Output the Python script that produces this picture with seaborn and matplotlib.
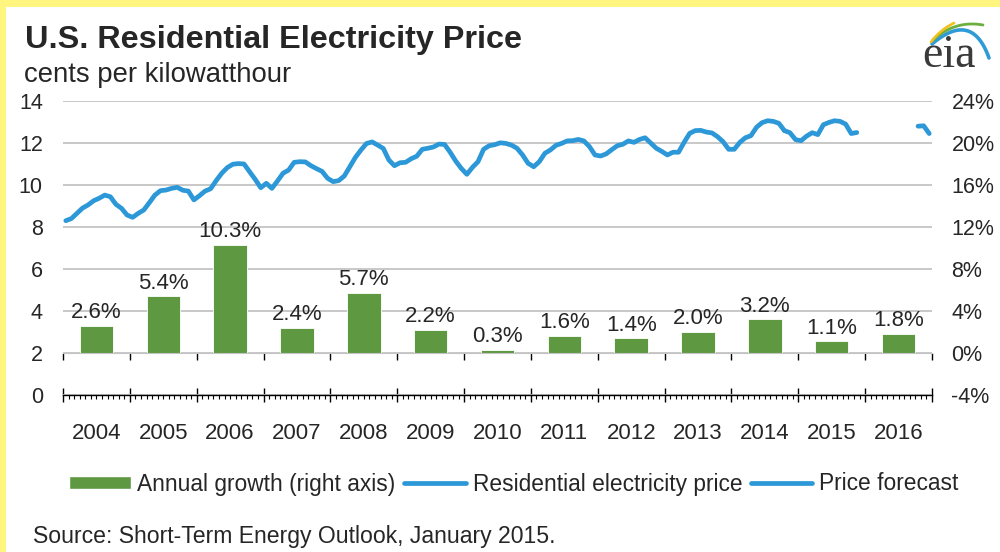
import numpy as np
import pandas as pd
import matplotlib
matplotlib.use("Agg")
import matplotlib.pyplot as plt
import seaborn as sns
from matplotlib.patches import Patch, Rectangle
from matplotlib.lines import Line2D

# annual growth of the residential price, % (right axis)
years = list(range(2004, 2017))
growth = [2.6, 5.4, 10.3, 2.4, 5.7, 2.2, 0.3, 1.6, 1.4, 2.0, 3.2, 1.1, 1.8]

# monthly residential price, cents/kWh, Jan 2004 - Oct 2014
price_hist = [
    8.30, 8.40, 8.65, 8.90, 9.05, 9.25, 9.37, 9.52, 9.44, 9.08, 8.89, 8.57,
    8.46, 8.65, 8.81, 9.16, 9.52, 9.73, 9.76, 9.84, 9.89, 9.75, 9.71, 9.29,
    9.49, 9.71, 9.82, 10.21, 10.56, 10.83, 10.99, 11.02, 11.00, 10.63, 10.27, 9.87,
    10.08, 9.84, 10.19, 10.56, 10.71, 11.08, 11.11, 11.10, 10.92, 10.78, 10.65, 10.32,
    10.16, 10.21, 10.43, 10.87, 11.32, 11.67, 11.98, 12.05, 11.90, 11.74, 11.19, 10.92,
    11.06, 11.08, 11.25, 11.37, 11.70, 11.75, 11.81, 11.95, 11.93, 11.56, 11.14, 10.79,
    10.51, 10.84, 11.11, 11.70, 11.87, 11.92, 12.01, 11.98, 11.90, 11.75, 11.43, 11.03,
    10.87, 11.11, 11.51, 11.67, 11.89, 11.98, 12.10, 12.11, 12.17, 12.10, 11.83, 11.43,
    11.38, 11.48, 11.68, 11.87, 11.94, 12.10, 12.03, 12.17, 12.25, 12.00, 11.75, 11.60,
    11.43, 11.56, 11.56, 12.03, 12.46, 12.59, 12.60, 12.52, 12.48, 12.30, 12.06, 11.70,
    11.70, 12.03, 12.25, 12.35, 12.75, 12.97, 13.06, 13.03, 12.94, 12.59,
]
# forecast, Nov 2014 - Nov 2015
price_fcst = [12.49, 12.16, 12.11, 12.33, 12.49, 12.40, 12.87, 12.98, 13.06, 13.03, 12.90, 12.45, 12.50]
# forecast, Oct - Dec 2016
price_fcst_late = [12.80, 12.82, 12.45]

blue = "#2C98D8"
green = "#5E9942"
grid_gray = "#C4C4C4"

n_hist = len(price_hist)
n_f = len(price_fcst)
line_df = pd.concat([
    pd.DataFrame({"month": np.arange(n_hist) + 0.5, "price": price_hist, "seg": 0}),
    pd.DataFrame({"month": np.arange(n_hist - 1, n_hist + n_f) + 0.5,
                  "price": [price_hist[-1]] + price_fcst, "seg": 1}),
    pd.DataFrame({"month": np.arange(156 - len(price_fcst_late), 156) + 0.5,
                  "price": price_fcst_late, "seg": 2}),
])
bar_df = pd.DataFrame({"mid": np.arange(len(years)) * 12 + 6, "growth": growth})

sns.set_style("white")
plt.rcParams["font.family"] = ["Liberation Sans", "DejaVu Sans"]

fig = plt.figure(figsize=(10, 5.52), dpi=100)
ax = fig.add_axes([0.063, 1 - 395 / 552, 0.869, 294 / 552])
ax2 = ax.twinx()

sns.lineplot(data=line_df, x="month", y="price", units="seg", estimator=None,
             sort=False, color=blue, lw=3.4, solid_capstyle="round",
             solid_joinstyle="round", ax=ax, legend=False)
sns.barplot(data=bar_df, x="mid", y="growth", native_scale=True, width=0.5,
            color=green, saturation=1, errorbar=None, edgecolor="white",
            linewidth=0.6, ax=ax2)
ax2.bar_label(ax2.containers[0], labels=[f"{v:.1f}%" for v in growth],
              padding=2, fontsize=16)

for a in (ax, ax2):
    a.set_xlabel("")
    a.set_ylabel("")
    for s in a.spines.values():
        s.set_visible(False)

# x axis: months, year boundaries as major ticks
ax.set_xlim(0, 156)
ax.set_xticks(np.arange(0, 157, 12))
ax.set_xticks(np.arange(0, 157, 1), minor=True)
ax.spines["bottom"].set_visible(True)
ax.spines["bottom"].set_color("black")
ax.spines["bottom"].set_linewidth(1)
ax.tick_params(axis="x", which="major", direction="inout", length=10, width=1,
               color="black", labelbottom=False, bottom=True)
ax.tick_params(axis="x", which="minor", direction="out", length=3, width=0.8,
               color="black", bottom=True)

ax.set_ylim(0, 14)
ax.set_yticks(range(0, 15, 2))
ax.tick_params(axis="y", length=0, pad=14.5, labelsize=15.5)
ax.grid(axis="y", color=grid_gray, lw=1.3)
ax.set_axisbelow(True)

ax2.set_ylim(-4, 24)
ax2.set_yticks(range(-4, 25, 4), labels=[f"{v}%" for v in range(-4, 25, 4)])
ax2.tick_params(axis="y", length=0, pad=14, labelsize=15.5)
ax2.xaxis.set_visible(True)
ax2.spines["bottom"].set_visible(True)
ax2.spines["bottom"].set_position(("data", 0))
ax2.spines["bottom"].set_color(grid_gray)
ax2.tick_params(axis="x", which="major", direction="out", length=5, width=1,
                color="black", labelbottom=False, bottom=True)
ax2.tick_params(axis="x", which="minor", length=0)

sec = ax.secondary_xaxis("bottom")
sec.set_xticks(bar_df["mid"], labels=[str(y) for y in years])
sec.tick_params(length=0, pad=20, labelsize=16)
sec.spines["bottom"].set_visible(False)

# titles and source
fig.text(0.025, 1 - 48 / 552, "U.S. Residential Electricity Price",
         fontsize=23.3, fontweight="bold", va="baseline")
fig.text(0.024, 1 - 82 / 552, "cents per kilowatthour", fontsize=19.8, va="baseline")
fig.text(0.033, 1 - 543 / 552, "Source: Short-Term Energy Outlook, January 2015.",
         fontsize=16.6, va="baseline")

handles = [Patch(facecolor=green),
           Line2D([], [], color=blue, lw=3.4, solid_capstyle="round"),
           Line2D([], [], color=blue, lw=3.4, solid_capstyle="round")]
fig.legend(handles, ["Annual growth (right axis)", "Residential electricity price",
                     "Price forecast"],
           loc="center left", bbox_to_anchor=(0.069, 1 - 484 / 552), ncol=3,
           frameon=False, fontsize=16.4, handlelength=2.7, handleheight=0.55,
           handletextpad=0.3, columnspacing=0.38, borderpad=0, borderaxespad=0)

# eia logo
logo = fig.add_axes([0.918, 1 - 72 / 552, 0.08, 60 / 552])
logo.set_xlim(918, 998)
logo.set_ylim(72, 12)
logo.axis("off")
t = np.linspace(0, 1, 40)
for p0, p1, p2, col, w in [((932, 44), (972, 10), (989, 58), "#2E9AD6", 2.6),
                           ((933, 40), (955, 20), (983, 25), "#6DAE3E", 2.0),
                           ((931, 42), (940, 30), (954, 23), "#F2C01E", 1.9)]:
    bx = (1 - t) ** 2 * p0[0] + 2 * (1 - t) * t * p1[0] + t ** 2 * p2[0]
    by = (1 - t) ** 2 * p0[1] + 2 * (1 - t) * t * p1[1] + t ** 2 * p2[1]
    logo.plot(bx, by, color=col, lw=w, solid_capstyle="round")
fig.text(0.922, 1 - 67 / 552, "eia", family=["Liberation Serif", "DejaVu Serif"],
         fontsize=33, color="#3A3A3A", va="baseline")

# yellow frame on top and left
yellow = "#FFF57F"
fig.add_artist(Rectangle((0, 1 - 7 / 552), 1, 7 / 552, transform=fig.transFigure,
                         color=yellow, lw=0))
fig.add_artist(Rectangle((0, 0), 6 / 1000, 1, transform=fig.transFigure,
                         color=yellow, lw=0))

fig.savefig("out.png", dpi=100)
